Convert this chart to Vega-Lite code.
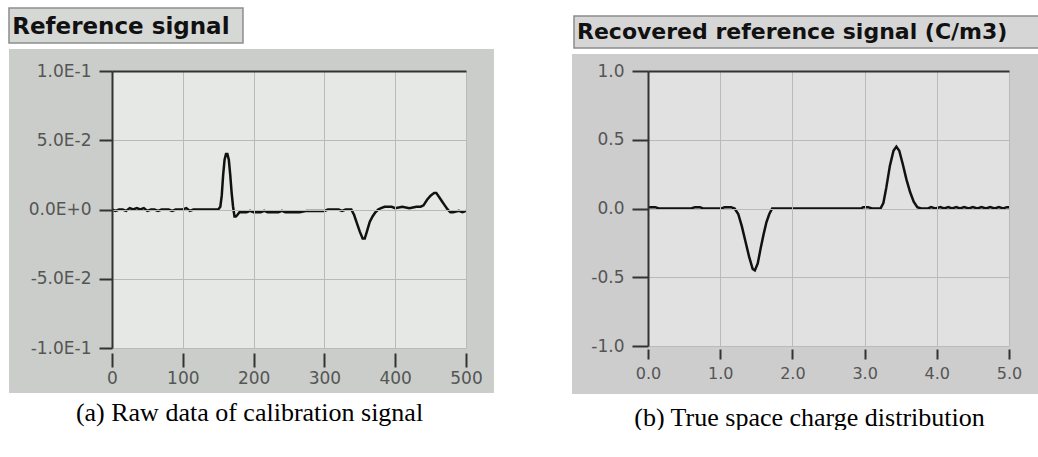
{
  "$schema": "https://vega.github.io/schema/vega-lite/v6.json",
  "padding": {"left": 8, "top": 7, "right": 0, "bottom": 0},
  "background": "white",
  "spacing": 77,
  "config": {
    "view": {"stroke": null},
    "axis": {
      "labelFont": "DejaVu Sans",
      "labelFontSize": 16,
      "labelColor": "#555555",
      "labelFlush": false,
      "labelOverlap": false,
      "domainColor": "#333333",
      "domainWidth": 2,
      "tickColor": "#333333",
      "tickWidth": 2,
      "gridColor": "#b8bcb8",
      "gridWidth": 1
    }
  },
  "datasets": {
    "raw": [
      {"x": 0, "y": 0.000}, {"x": 5, "y": -0.001}, {"x": 10, "y": 0.000}, {"x": 15, "y": 0.000},
      {"x": 20, "y": -0.001}, {"x": 25, "y": 0.001}, {"x": 30, "y": 0.000}, {"x": 35, "y": 0.001},
      {"x": 40, "y": 0.000}, {"x": 45, "y": 0.001}, {"x": 50, "y": -0.001}, {"x": 55, "y": 0.000},
      {"x": 60, "y": 0.000}, {"x": 65, "y": -0.001}, {"x": 70, "y": 0.000}, {"x": 80, "y": 0.000},
      {"x": 85, "y": -0.001}, {"x": 90, "y": 0.000}, {"x": 100, "y": 0.000}, {"x": 105, "y": 0.001},
      {"x": 110, "y": -0.001}, {"x": 115, "y": 0.000}, {"x": 130, "y": 0.000}, {"x": 150, "y": 0.000},
      {"x": 153, "y": 0.002}, {"x": 155, "y": 0.010}, {"x": 157, "y": 0.025}, {"x": 159, "y": 0.036},
      {"x": 161, "y": 0.040}, {"x": 163, "y": 0.040}, {"x": 165, "y": 0.036}, {"x": 167, "y": 0.025},
      {"x": 169, "y": 0.012}, {"x": 171, "y": 0.002}, {"x": 173, "y": -0.005}, {"x": 175, "y": -0.005},
      {"x": 177, "y": -0.004}, {"x": 180, "y": -0.002}, {"x": 190, "y": -0.002}, {"x": 195, "y": -0.001},
      {"x": 200, "y": -0.002}, {"x": 210, "y": -0.002}, {"x": 215, "y": -0.001}, {"x": 220, "y": -0.002},
      {"x": 235, "y": -0.002}, {"x": 240, "y": -0.001}, {"x": 245, "y": -0.002}, {"x": 265, "y": -0.002},
      {"x": 275, "y": -0.001}, {"x": 300, "y": -0.001}, {"x": 305, "y": 0.000}, {"x": 320, "y": 0.000},
      {"x": 325, "y": -0.001}, {"x": 330, "y": 0.000}, {"x": 338, "y": 0.000}, {"x": 342, "y": -0.004},
      {"x": 346, "y": -0.010}, {"x": 350, "y": -0.016}, {"x": 354, "y": -0.021}, {"x": 357, "y": -0.021},
      {"x": 360, "y": -0.016}, {"x": 364, "y": -0.009}, {"x": 368, "y": -0.005}, {"x": 372, "y": -0.002},
      {"x": 376, "y": 0.000}, {"x": 380, "y": 0.001}, {"x": 385, "y": 0.002}, {"x": 395, "y": 0.002},
      {"x": 400, "y": 0.001}, {"x": 410, "y": 0.002}, {"x": 420, "y": 0.001}, {"x": 430, "y": 0.002},
      {"x": 436, "y": 0.002}, {"x": 440, "y": 0.003}, {"x": 445, "y": 0.007}, {"x": 450, "y": 0.010},
      {"x": 455, "y": 0.012}, {"x": 458, "y": 0.012}, {"x": 462, "y": 0.009}, {"x": 466, "y": 0.006},
      {"x": 470, "y": 0.003}, {"x": 474, "y": 0.000}, {"x": 478, "y": -0.002}, {"x": 482, "y": -0.002},
      {"x": 490, "y": -0.001}, {"x": 495, "y": -0.002}, {"x": 500, "y": -0.001}
    ],
    "charge": [
      {"d": 0.00, "v": 0.01}, {"d": 0.10, "v": 0.01}, {"d": 0.15, "v": 0.0}, {"d": 0.60, "v": 0.0},
      {"d": 0.65, "v": 0.01}, {"d": 0.72, "v": 0.01}, {"d": 0.76, "v": 0.0}, {"d": 1.02, "v": 0.0},
      {"d": 1.06, "v": 0.01}, {"d": 1.15, "v": 0.01}, {"d": 1.20, "v": 0.0}, {"d": 1.25, "v": -0.04},
      {"d": 1.30, "v": -0.13}, {"d": 1.35, "v": -0.24}, {"d": 1.40, "v": -0.35}, {"d": 1.45, "v": -0.44},
      {"d": 1.48, "v": -0.45}, {"d": 1.52, "v": -0.40}, {"d": 1.56, "v": -0.29}, {"d": 1.60, "v": -0.19},
      {"d": 1.64, "v": -0.10}, {"d": 1.68, "v": -0.04}, {"d": 1.72, "v": 0.0}, {"d": 2.95, "v": 0.0},
      {"d": 2.98, "v": 0.01}, {"d": 3.05, "v": 0.01}, {"d": 3.10, "v": 0.0}, {"d": 3.22, "v": 0.0},
      {"d": 3.26, "v": 0.04}, {"d": 3.30, "v": 0.15}, {"d": 3.35, "v": 0.31}, {"d": 3.40, "v": 0.42},
      {"d": 3.44, "v": 0.45}, {"d": 3.48, "v": 0.42}, {"d": 3.53, "v": 0.32}, {"d": 3.58, "v": 0.21},
      {"d": 3.63, "v": 0.12}, {"d": 3.68, "v": 0.05}, {"d": 3.73, "v": 0.01}, {"d": 3.78, "v": 0.0},
      {"d": 3.88, "v": 0.0}, {"d": 3.92, "v": 0.01}, {"d": 3.98, "v": 0.0}, {"d": 4.05, "v": 0.01},
      {"d": 4.10, "v": 0.0}, {"d": 4.16, "v": 0.01}, {"d": 4.21, "v": 0.0}, {"d": 4.27, "v": 0.01},
      {"d": 4.32, "v": 0.0}, {"d": 4.38, "v": 0.01}, {"d": 4.44, "v": 0.0}, {"d": 4.50, "v": 0.01},
      {"d": 4.56, "v": 0.0}, {"d": 4.62, "v": 0.01}, {"d": 4.68, "v": 0.0}, {"d": 4.74, "v": 0.01},
      {"d": 4.80, "v": 0.0}, {"d": 4.86, "v": 0.01}, {"d": 4.92, "v": 0.0}, {"d": 4.97, "v": 0.01},
      {"d": 5.00, "v": 0.01}
    ]
  },
  "hconcat": [
    {
      "width": 354,
      "height": 277,
      "title": {
        "text": "Reference signal",
        "anchor": "start",
        "frame": "bounds",
        "font": "DejaVu Sans",
        "fontWeight": "bold",
        "fontSize": 23,
        "color": "#111111",
        "offset": -32,
        "dx": 4
      },
      "layer": [
        {
          "data": {"values": [{}]},
          "mark": {"type": "rect", "color": "#d6d8d6", "stroke": "#8c8e8c", "strokeWidth": 1.5, "clip": false},
          "encoding": {
            "x": {"datum": -145.5, "type": "quantitative", "scale": {"domain": [0, 500], "nice": false, "zero": false}, "axis": null},
            "x2": {"datum": 185},
            "y": {"datum": 0.1455, "type": "quantitative", "scale": {"domain": [-0.1, 0.1], "nice": false, "zero": false}, "axis": null},
            "y2": {"datum": 0.1202}
          }
        },
        {
          "data": {"values": [{}]},
          "mark": {"type": "rect", "color": "#cacdca", "clip": false},
          "encoding": {
            "x": {"datum": -145.5, "type": "quantitative", "scale": {"domain": [0, 500], "nice": false, "zero": false}, "axis": null},
            "x2": {"datum": 539.5},
            "y": {"datum": 0.1159, "type": "quantitative", "scale": {"domain": [-0.1, 0.1], "nice": false, "zero": false}, "axis": null},
            "y2": {"datum": -0.1325}
          }
        },
        {
          "data": {"values": [{}]},
          "mark": {"type": "rect", "color": "#e5e8e4", "clip": false},
          "encoding": {
            "x": {"datum": 0, "type": "quantitative", "scale": {"domain": [0, 500], "nice": false, "zero": false},
                  "axis": {"orient": "top", "labels": false, "ticks": false, "grid": false, "domain": true, "title": null, "zindex": 2}},
            "x2": {"datum": 500},
            "y": {"datum": 0.1, "type": "quantitative", "scale": {"domain": [-0.1, 0.1], "nice": false, "zero": false}, "axis": null},
            "y2": {"datum": -0.1}
          }
        },
        {
          "data": {"name": "raw"},
          "mark": {"type": "line", "color": "#111111", "strokeWidth": 2.5, "clip": false},
          "encoding": {
            "x": {
              "field": "x", "type": "quantitative",
              "scale": {"domain": [0, 500], "nice": false, "zero": false},
              "axis": {
                "orient": "bottom",
                "zindex": 1,
                "values": [0, 100, 200, 300, 400, 500],
                "domain": false,
                "offset": 5,
                "tickSize": 14,
                "labelPadding": 3,
                "labelFontSize": 17,
                "grid": true,
                "title": "(a) Raw data of calibration signal",
                "titleFont": "Liberation Serif",
                "titleFontSize": 26,
                "titleFontWeight": "normal",
                "titleColor": "#000000",
                "titleX": 137,
                "titleY": 67,
                "titleBaseline": "alphabetic",
                "titleAlign": "center"
              }
            },
            "y": {
              "field": "y", "type": "quantitative",
              "scale": {"domain": [-0.1, 0.1], "nice": false, "zero": false},
              "axis": {
                "orient": "left",
                "zindex": 1,
                "values": [-0.1, -0.05, 0, 0.05, 0.1],
                "labelExpr": "replace(upper(format(datum.value, '.1e')), '−', '-')",
                "tickSize": 13,
                "labelPadding": 8,
                "labelFontSize": 17,
                "grid": true,
                "title": null
              }
            }
          }
        }
      ],
      "resolve": {"axis": {"x": "independent", "y": "independent"}}
    },
    {
      "width": 361,
      "height": 275,
      "title": {
        "text": "Recovered reference signal (C/m3)",
        "anchor": "start",
        "frame": "bounds",
        "font": "DejaVu Sans",
        "fontWeight": "bold",
        "fontSize": 22,
        "color": "#111111",
        "offset": -29,
        "dx": 5
      },
      "layer": [
        {
          "data": {"values": [{}]},
          "mark": {"type": "rect", "color": "#d6d6d6", "stroke": "#8c8c8c", "strokeWidth": 1.5, "clip": false},
          "encoding": {
            "x": {"datum": -1.025, "type": "quantitative", "scale": {"domain": [0, 5], "nice": false, "zero": false}, "axis": null},
            "x2": {"datum": 5.416},
            "y": {"datum": 1.40, "type": "quantitative", "scale": {"domain": [-1, 1], "nice": false, "zero": false}, "axis": null},
            "y2": {"datum": 1.167}
          }
        },
        {
          "data": {"values": [{}]},
          "mark": {"type": "rect", "color": "#cdcdcd", "clip": false},
          "encoding": {
            "x": {"datum": -1.053, "type": "quantitative", "scale": {"domain": [0, 5], "nice": false, "zero": false}, "axis": null},
            "x2": {"datum": 5.416},
            "y": {"datum": 1.124, "type": "quantitative", "scale": {"domain": [-1, 1], "nice": false, "zero": false}, "axis": null},
            "y2": {"datum": -1.349}
          }
        },
        {
          "data": {"values": [{}]},
          "mark": {"type": "rect", "color": "#e1e1e1", "clip": false},
          "encoding": {
            "x": {"datum": 0, "type": "quantitative", "scale": {"domain": [0, 5], "nice": false, "zero": false},
                  "axis": {"orient": "top", "labels": false, "ticks": false, "grid": false, "domain": true, "title": null, "zindex": 2}},
            "x2": {"datum": 5},
            "y": {"datum": 1, "type": "quantitative", "scale": {"domain": [-1, 1], "nice": false, "zero": false}, "axis": null},
            "y2": {"datum": -1}
          }
        },
        {
          "data": {"name": "charge"},
          "mark": {"type": "line", "color": "#111111", "strokeWidth": 2.5, "clip": false},
          "encoding": {
            "x": {
              "field": "d", "type": "quantitative",
              "scale": {"domain": [0, 5], "nice": false, "zero": false},
              "axis": {
                "orient": "bottom",
                "zindex": 1,
                "values": [0, 1, 2, 3, 4, 5],
                "format": ".1f",
                "domain": false,
                "offset": 3,
                "tickSize": 10,
                "labelPadding": 6,
                "labelFontSize": 16,
                "grid": true,
                "title": "(b) True space charge distribution",
                "titleFont": "Liberation Serif",
                "titleFontSize": 26,
                "titleFontWeight": "normal",
                "titleColor": "#000000",
                "titleX": 161,
                "titleY": 76,
                "titleBaseline": "alphabetic",
                "titleAlign": "center"
              }
            },
            "y": {
              "field": "v", "type": "quantitative",
              "scale": {"domain": [-1, 1], "nice": false, "zero": false},
              "axis": {
                "orient": "left",
                "zindex": 1,
                "values": [-1, -0.5, 0, 0.5, 1],
                "labelExpr": "replace(format(datum.value, '.1f'), '−', '-')",
                "tickSize": 16,
                "labelPadding": 8,
                "labelFontSize": 17,
                "grid": true,
                "title": null
              }
            }
          }
        }
      ],
      "resolve": {"axis": {"x": "independent", "y": "independent"}}
    }
  ]
}
